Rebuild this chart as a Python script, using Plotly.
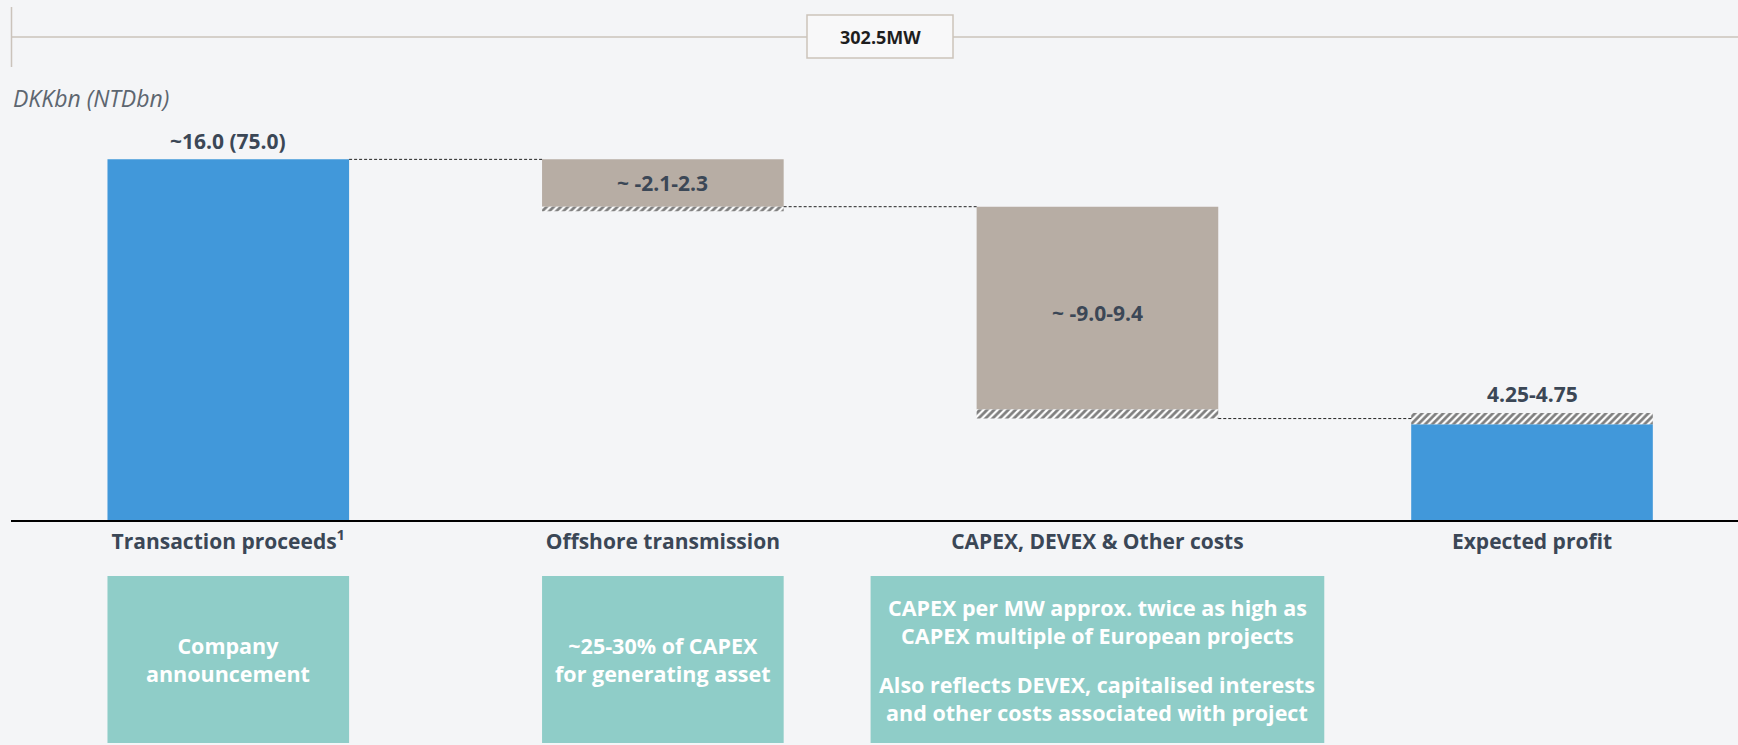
import plotly.graph_objects as go

# ---------------- data ----------------
categories = ["Transaction proceeds<sup>1</sup>", "Offshore transmission",
              "CAPEX, DEVEX & Other costs", "Expected profit"]
start_value = 16.0                 # Transaction proceeds (DKKbn)
offshore_range = [2.1, 2.3]        # deduction range
capex_range = [9.0, 9.4]           # deduction range
profit_range = [4.25, 4.75]        # resulting range
value_labels = ["~16.0 (75.0)", "~ -2.1-2.3", "~ -9.0-9.4", "4.25-4.75"]
box_paragraphs = [
    ["Company<br>announcement"],
    ["~25-30% of CAPEX<br>for generating asset"],
    ["CAPEX per MW approx. twice as high as<br>CAPEX multiple of European projects",
     "Also reflects DEVEX, capitalised interests<br>and other costs associated with project"],
]
box_halfwidths = [0.278, 0.278, 0.522]
unit_label = "DKKbn (NTDbn)"
capacity_label = "302.5MW"

# ---------------- styling ----------------
BG = "#F4F5F7"
BLUE = "#4198DA"
GREY = "#B7ADA4"
TEAL = "#8FCDC8"
TXT = "#3B4756"
LINE = "#CBC3BB"
FONT = "Open Sans"
W, H = 1738, 745
PLOT_BOTTOM_PX = 520
LEFT_PX = 11
BAR_W = 0.556


def paper_y(px):
    return (PLOT_BOTTOM_PX - px) / PLOT_BOTTOM_PX


def paper_x(px):
    return (px - LEFT_PX) / (W - LEFT_PX)


x = list(range(len(categories)))

lvl_after_off = start_value - offshore_range[0]
capex_top = lvl_after_off
capex_solid_bottom = capex_top - capex_range[0]
capex_hatch_bottom = capex_top - capex_range[1]

solid_base = [0, start_value - offshore_range[0], capex_solid_bottom, 0]
solid_len = [start_value, offshore_range[0], capex_range[0], profit_range[0]]
solid_col = [BLUE, GREY, GREY, BLUE]

hatch_x = [1, 2, 3]
hatch_base = [start_value - offshore_range[1], capex_hatch_bottom, profit_range[0]]
hatch_len = [offshore_range[1] - offshore_range[0], capex_range[1] - capex_range[0],
             profit_range[1] - profit_range[0]]

fig = go.Figure()
fig.add_trace(go.Bar(x=x, y=solid_len, base=solid_base, width=BAR_W,
                     marker=dict(color=solid_col, line=dict(width=0)),
                     hoverinfo="skip"))
fig.add_trace(go.Bar(x=hatch_x, y=hatch_len, base=hatch_base, width=BAR_W,
                     marker=dict(color="white", line=dict(width=0),
                                 pattern=dict(shape="/", fgcolor="black", bgcolor="white",
                                              size=5, solidity=0.55)),
                     hoverinfo="skip"))

# connectors
levels = [start_value, lvl_after_off, (profit_range[0] + profit_range[1]) / 2]
for i, lv in enumerate(levels):
    fig.add_trace(go.Scatter(x=[i + BAR_W / 2, i + 1 - BAR_W / 2], y=[lv, lv], mode="lines",
                             line=dict(color="#222222", width=1, dash="3px,2px"),
                             hoverinfo="skip"))

# value labels
VFS = 21
ann = []
ann.append(dict(x=0, y=start_value, text="<b>%s</b>" % value_labels[0], showarrow=False,
                yanchor="bottom", yshift=2, font=dict(size=VFS, color=TXT, family=FONT)))
ann.append(dict(x=1, y=start_value - offshore_range[0] / 2, text="<b>%s</b>" % value_labels[1],
                showarrow=False, yanchor="middle", font=dict(size=VFS, color=TXT, family=FONT)))
ann.append(dict(x=2, y=capex_top - capex_range[1] / 2, text="<b>%s</b>" % value_labels[2],
                showarrow=False, yanchor="middle", font=dict(size=VFS, color=TXT, family=FONT)))
ann.append(dict(x=3, y=profit_range[1], text="<b>%s</b>" % value_labels[3], showarrow=False,
                yanchor="bottom", yshift=3, font=dict(size=VFS, color=TXT, family=FONT)))

# bottom boxes
shapes = []
BOX_TOP, BOX_BOT = 576, 743
box_mid = (BOX_TOP + BOX_BOT) / 2
PARA_GAP = 77
for i, paras in enumerate(box_paragraphs):
    hw = box_halfwidths[i]
    shapes.append(dict(type="rect", xref="x", yref="paper", x0=i - hw, x1=i + hw,
                       y0=paper_y(BOX_BOT), y1=paper_y(BOX_TOP), fillcolor=TEAL,
                       line=dict(width=0), layer="below"))
    n = len(paras)
    for k, t in enumerate(paras):
        cy = box_mid + (k - (n - 1) / 2) * PARA_GAP
        ann.append(dict(x=i, xref="x", yref="paper", y=paper_y(cy), yanchor="middle",
                        xanchor="center", text="<b>%s</b>" % t, borderpad=0,
                        showarrow=False, font=dict(size=21.5, color="white", family=FONT),
                        align="center"))

# top capacity line and box
shapes.append(dict(type="line", xref="paper", yref="paper", x0=paper_x(11.5), x1=1.0,
                   y0=paper_y(37), y1=paper_y(37), line=dict(color=LINE, width=1.5)))
shapes.append(dict(type="line", xref="paper", yref="paper", x0=paper_x(11.5), x1=paper_x(11.5),
                   y0=paper_y(7), y1=paper_y(67), line=dict(color=LINE, width=1.5)))
shapes.append(dict(type="rect", xref="paper", yref="paper", x0=paper_x(807), x1=paper_x(953),
                   y0=paper_y(58), y1=paper_y(15), fillcolor="#F8F8F9",
                   line=dict(color=LINE, width=1.5)))
ann.append(dict(xref="paper", yref="paper", x=paper_x(880), y=paper_y(37),
                xanchor="center", yanchor="middle",
                text="<b>%s</b>" % capacity_label, showarrow=False,
                font=dict(size=18, color="#1E1E1E", family=FONT)))
ann.append(dict(xref="paper", yref="paper", x=0, y=paper_y(98), xanchor="left", yanchor="middle",
                text="<i>%s</i>" % unit_label, showarrow=False,
                font=dict(size=23, color="#5D6670", family=FONT)))

fig.update_layout(
    width=W, height=H,
    margin=dict(l=LEFT_PX, r=0, t=0, b=H - PLOT_BOTTOM_PX, pad=0),
    paper_bgcolor=BG, plot_bgcolor=BG,
    barmode="overlay", showlegend=False,
    font=dict(family=FONT, color=TXT),
    shapes=shapes, annotations=ann,
    xaxis=dict(range=[-0.5, 3.474], tickvals=x,
               ticktext=["<b>%s</b>" % c for c in categories],
               tickfont=dict(size=21, color=TXT, family=FONT),
               showline=True, linecolor="black", linewidth=2,
               showgrid=False, zeroline=False, ticks="", ticklabelstandoff=2,
               fixedrange=True),
    yaxis=dict(range=[0, PLOT_BOTTOM_PX / 22.54], visible=False, fixedrange=True),
)

fig.write_html("out.html", config={"displayModeBar": False},
               post_script="document.body.style.margin='0px';document.body.style.padding='0px';"
                           "document.body.style.overflow='hidden';")
